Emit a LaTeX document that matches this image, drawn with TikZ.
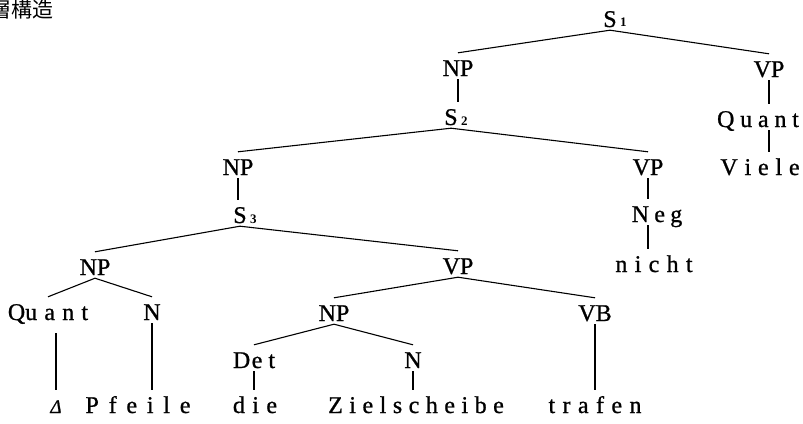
\documentclass[tikz,border=0pt]{standalone}
\usepackage{fontspec}
\setmainfont{Liberation Serif}[BoldFont={Liberation Serif}, BoldFeatures={FakeBold=0.9}, BoldItalicFont={Liberation Serif Italic}, BoldItalicFeatures={FakeBold=0.9}]
\newfontfamily\cjk{Noto Sans CJK JP}
\newfontfamily\subfont{Liberation Serif Bold}
\newlength\lsp
\newcommand\g{\hspace{\lsp}}
\newcommand\subidx[1]{\rlap{\hspace{3.5pt}\subfont\fontsize{13}{13}\selectfont #1}}
\begin{document}
\begin{tikzpicture}[x=1pt,y=-1pt,
  t/.style={anchor=base, inner sep=0pt, text height=23pt, text depth=3pt, font=\fontsize{24}{24}\selectfont\bfseries},
  sp/.style={execute at begin node={\setlength\lsp{#1}}},
  ln/.style={line width=1.1pt}]
\useasboundingbox (0,0) rectangle (803,423);
% title (partly cut off at the left edge)
\node[anchor=base east, inner sep=0pt, font=\cjk\fontsize{21}{21}\selectfont] (title) at (54,17.5) {層構造};
% level nodes
\node[t] (S1) at (610,27) {S\subidx{1}};
\node[t] (NP1) at (458,76) {NP};
\node[t] (VP1) at (769,77) {VP};
\node[t] (S2) at (451,125) {S\subidx{2}};
\node[t, sp=5.8pt] (QR) at (758,127) {Q\g u\g a\g n\g t};
\node[t, sp=6.8pt] (Viele) at (760,175) {V\g i\g e\g l\g e};
\node[t] (NP2) at (238,175) {NP};
\node[t] (VP2) at (648,175) {VP};
\node[t] (S3) at (240,223) {S\subidx{3}};
\node[t, sp=5.3pt] (Neg) at (657,222) {N\g e\g g};
\node[t, sp=7.3pt] (nicht) at (654,272) {n\g i\g c\g h\g t};
\node[t] (NP3) at (95,275) {NP};
\node[t] (VP3) at (458,274) {VP};
\node[t, sp=7.2pt] (QL) at (48,320) {Qu\g a\g n\g t};
\node[t] (N1) at (152,320) {N};
\node[t] (NP4) at (334,321) {NP};
\node[t] (VB) at (595,321) {VB};
\node[t] (Det) at (254,368) {D\hspace{1.5pt}e\hspace{6pt}t};
\node[t] (N2) at (413,368) {N};
% bottom row
\node[t] (Delta) at (56,413) {{\itshape\fontsize{19}{19}\selectfont Δ}};
\node[t, sp=9.8pt] (Pf) at (138,413) {P\g f\g e\g i\g l\g e};
\node[t, sp=7.4pt] (die) at (255,413) {d\g i\g e};
\node[t, sp=6.5pt] (Ziel) at (416,413) {Z\g i\g e\g l\g s\g c\g h\g e\g i\g b\g e};
\node[t, sp=7.4pt] (trafen) at (595,413) {t\g r\g a\g f\g e\g n};
% connectors
\draw[ln] (S1.south) -- (NP1.north);
\draw[ln] (S1.south) -- (VP1.north);
\draw[ln] (NP1.south) -- (NP1.south |- S2.north);
\draw[ln] (VP1.south) -- (VP1.south |- QR.north);
\draw[ln] (VP1.south |- QR.south) -- (VP1.south |- Viele.north);
\draw[ln] (S2.south) -- (NP2.north);
\draw[ln] (S2.south) -- (VP2.north);
\draw[ln] (NP2.south) -- (NP2.south |- S3.north);
\draw[ln] (VP2.south) -- (VP2.south |- Neg.north);
\draw[ln] (VP2.south |- Neg.south) -- (VP2.south |- nicht.north);
\draw[ln] (S3.south) -- (NP3.north);
\draw[ln] (S3.south) -- (VP3.north);
\draw[ln] (NP3.south) -- (QL.north);
\draw[ln] (NP3.south) -- (N1.north);
\draw[ln] (VP3.south) -- (NP4.north);
\draw[ln] (VP3.south) -- (VB.north);
\draw[ln] (NP4.south) -- (Det.north);
\draw[ln] (NP4.south) -- (N2.north);
\draw[ln] ([yshift=-10pt]Delta.north |- QL.south) -- (Delta.north);
\draw[ln] (N1.south) -- (N1.south |- Pf.north);
\draw[ln] (Det.south) -- (Det.south |- die.north);
\draw[ln] (N2.south) -- (N2.south |- Ziel.north);
\draw[ln] (VB.south) -- (VB.south |- trafen.north);
\end{tikzpicture}
\end{document}
